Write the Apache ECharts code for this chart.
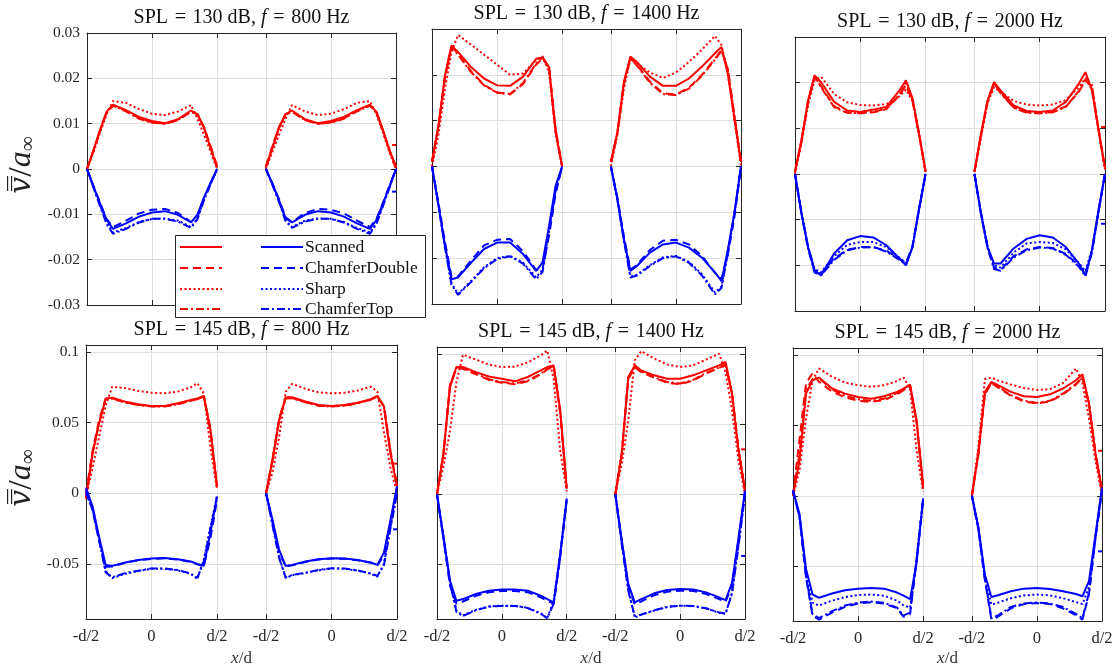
<!DOCTYPE html>
<html><head><meta charset="utf-8">
<script src="https://cdn.jsdelivr.net/npm/echarts@6/dist/echarts.min.js"></script>
<style>html,body{margin:0;padding:0;background:#fff}#c{width:1116px;height:668px}</style>
</head><body><div id="c"></div>
<script>
// ---------- axes / ticks ----------
const xsLeft  = [-0.5, -0.45, -0.4, -0.35, -0.3, -0.2, -0.1, 0, 0.1, 0.2, 0.3, 0.35, 0.4, 0.45, 0.5];
const xsRight = [0.875, 0.925, 0.975, 1.025, 1.075, 1.175, 1.275, 1.375, 1.475, 1.575, 1.675, 1.725, 1.775, 1.825, 1.875];
const xTickValues = [-0.5, 0, 0.5, 0.875, 1.375, 1.875];
const xTickLabels = ['-d/2', '0', 'd/2', '-d/2', '0', 'd/2'];
const yTicksTop = [-0.03, -0.02, -0.01, 0, 0.01, 0.02, 0.03];
const yTickLabelsTop = ['-0.03', '-0.02', '-0.01', '0', '0.01', '0.02', '0.03'];
const yTicksBottom = [-0.05, 0, 0.05, 0.1];
const yTickLabelsBottom = ['-0.05', '0', '0.05', '0.1'];
const styleNames = ['Scanned', 'ChamferDouble', 'Sharp', 'ChamferTop'];
const panelSPL = [130, 130, 130, 145, 145, 145];
const panelFreq = [800, 1400, 2000, 800, 1400, 2000];

// ---------- data: rows = Scanned, ChamferDouble, Sharp, ChamferTop ----------
const p1RedL = [
 [0, .0042, .0086, .0126, .0142, .0130, .0115, .0106, .0101, .0110, .0129, .0120, .0090, .0046, .0003],
 [0, .0040, .0084, .0124, .0140, .0128, .0112, .0103, .0100, .0108, .0127, .0121, .0092, .0050, .0006],
 [0, .0036, .0080, .0120, .0150, .0146, .0132, .0122, .0119, .0127, .0141, .0110, .0075, .0038, 0],
 [0, .0041, .0085, .0125, .0140, .0127, .0111, .0102, .0100, .0108, .0126, .0120, .0091, .0049, .0005]];
const p1BlueL = [
 [0, -.0039, -.0076, -.0112, -.0132, -.0120, -.0105, -.0096, -.0093, -.0101, -.0118, -.0100, -.0062, -.0030, 0],
 [0, -.0037, -.0074, -.0110, -.0128, -.0114, -.0098, -.0090, -.0088, -.0097, -.0117, -.0102, -.0064, -.0032, 0],
 [0, -.0040, -.0080, -.0118, -.0140, -.0130, -.0117, -.0110, -.0109, -.0114, -.0128, -.0108, -.0066, -.0032, 0],
 [0, -.0041, -.0082, -.0121, -.0143, -.0132, -.0118, -.0110, -.0110, -.0116, -.0130, -.0110, -.0068, -.0034, 0]];
const p1RedR = [
 [.0003, .0046, .0090, .0120, .0129, .0110, .0101, .0106, .0115, .0130, .0142, .0126, .0086, .0042, .0005],
 [.0006, .0050, .0092, .0121, .0127, .0108, .0100, .0103, .0112, .0128, .0140, .0124, .0084, .0040, 0],
 [0, .0038, .0075, .0110, .0141, .0127, .0119, .0122, .0132, .0146, .0150, .0120, .0080, .0036, 0],
 [.0005, .0049, .0091, .0120, .0126, .0108, .0100, .0102, .0111, .0127, .0140, .0125, .0085, .0041, .0005]];
const p1BlueR = [
 [0, -.0032, -.0068, -.0108, -.0118, -.0101, -.0093, -.0096, -.0105, -.0120, -.0132, -.0112, -.0076, -.0039, 0],
 [0, -.0032, -.0066, -.0106, -.0117, -.0097, -.0088, -.0090, -.0098, -.0114, -.0128, -.0110, -.0074, -.0037, 0],
 [0, -.0034, -.0070, -.0112, -.0128, -.0114, -.0109, -.0110, -.0117, -.0130, -.0140, -.0118, -.0080, -.0040, 0],
 [0, -.0035, -.0072, -.0114, -.0130, -.0116, -.0110, -.0110, -.0118, -.0132, -.0143, -.0121, -.0082, -.0041, 0]];

const p2RedL = [
 [.001, .0090, .0199, .0264, .0250, .0217, .0192, .0177, .0176, .0196, .0235, .0238, .0217, .0075, 0],
 [.001, .0088, .0195, .0262, .0246, .0208, .0178, .0162, .0157, .0180, .0222, .0236, .0214, .0080, 0],
 [0, .0070, .0170, .0250, .0287, .0266, .0244, .0222, .0200, .0203, .0233, .0240, .0205, .0070, 0],
 [.001, .0089, .0197, .0260, .0244, .0206, .0177, .0161, .0158, .0182, .0225, .0238, .0215, .0082, 0]];
const p2BlueL = [
 [0, -.0085, -.0173, -.0246, -.0242, -.0210, -.0180, -.0166, -.0166, -.0191, -.0228, -.0209, -.0129, -.0042, 0],
 [0, -.0080, -.0165, -.0240, -.0240, -.0205, -.0172, -.0160, -.0158, -.0185, -.0226, -.0222, -.0150, -.0060, 0],
 [0, -.0085, -.0175, -.0255, -.0278, -.0250, -.0220, -.0200, -.0195, -.0210, -.0242, -.0225, -.0140, -.0050, 0],
 [0, -.0086, -.0177, -.0258, -.0280, -.0252, -.0222, -.0202, -.0196, -.0212, -.0246, -.0230, -.0142, -.0052, 0]];
const p2RedR = [
 [.001, .0075, .0185, .0240, .0228, .0196, .0176, .0176, .0192, .0218, .0247, .0261, .0200, .0104, .001],
 [.001, .0072, .0180, .0236, .0222, .0185, .0160, .0157, .0172, .0200, .0235, .0255, .0210, .0108, .001],
 [0, .0070, .0170, .0235, .0225, .0205, .0193, .0205, .0228, .0255, .0285, .0265, .0200, .0100, 0],
 [.001, .0073, .0182, .0237, .0220, .0183, .0158, .0156, .0170, .0198, .0233, .0253, .0212, .0110, .001]];
const p2BlueR = [
 [0, -.0071, -.0158, -.0228, -.0217, -.0188, -.0170, -.0166, -.0177, -.0199, -.0231, -.0250, -.0180, -.0100, 0],
 [0, -.0068, -.0152, -.0225, -.0215, -.0182, -.0162, -.0160, -.0170, -.0195, -.0232, -.0246, -.0190, -.0110, 0],
 [0, -.0072, -.0160, -.0240, -.0236, -.0215, -.0198, -.0195, -.0208, -.0235, -.0275, -.0262, -.0185, -.0100, 0],
 [0, -.0073, -.0162, -.0242, -.0238, -.0217, -.0200, -.0196, -.0210, -.0238, -.0279, -.0265, -.0188, -.0102, 0]];

const p3RedL = [
 [.0005, .0074, .0161, .0216, .0201, .0158, .0139, .0136, .0141, .0147, .0183, .0205, .0166, .0089, .0008],
 [.0005, .0072, .0158, .0212, .0192, .0148, .0135, .0133, .0135, .0142, .0172, .0195, .0160, .0088, .0005],
 [0, .0068, .0150, .0205, .0213, .0175, .0157, .0151, .0150, .0153, .0170, .0185, .0160, .0085, .0005],
 [.0005, .0075, .0160, .0214, .0190, .0146, .0134, .0133, .0136, .0143, .0174, .0198, .0162, .0088, .0005]];
const p3BlueL = [
 [0, -.0087, -.0160, -.0211, -.0222, -.0174, -.0145, -.0136, -.0139, -.0156, -.0185, -.0200, -.0160, -.0078, 0],
 [0, -.0086, -.0160, -.0213, -.0218, -.0185, -.0166, -.0160, -.0160, -.0168, -.0185, -.0195, -.0158, -.0076, 0],
 [0, -.0085, -.0158, -.0208, -.0215, -.0180, -.0155, -.0149, -.0149, -.0160, -.0183, -.0195, -.0160, -.0078, 0],
 [0, -.0088, -.0163, -.0216, -.0222, -.0188, -.0167, -.0161, -.0160, -.0170, -.0188, -.0198, -.0160, -.0078, 0]];
const p3RedR = [
 [.0005, .0088, .0161, .0201, .0183, .0150, .0138, .0136, .0139, .0158, .0198, .0223, .0183, .0096, .0015],
 [.0005, .0085, .0158, .0198, .0178, .0146, .0135, .0133, .0136, .0148, .0180, .0205, .0190, .0098, .0010],
 [.0005, .0080, .0155, .0190, .0180, .0160, .0152, .0150, .0152, .0162, .0190, .0210, .0195, .0100, .0010],
 [.0005, .0086, .0159, .0199, .0177, .0145, .0134, .0133, .0135, .0147, .0182, .0207, .0188, .0097, .0010]];
const p3BlueR = [
 [0, -.0087, -.0160, -.0196, -.0196, -.0163, -.0142, -.0134, -.0139, -.0160, -.0196, -.0222, -.0167, -.0080, 0],
 [0, -.0085, -.0158, -.0205, -.0210, -.0180, -.0165, -.0160, -.0162, -.0175, -.0200, -.0220, -.0170, -.0082, 0],
 [0, -.0085, -.0158, -.0200, -.0205, -.0172, -.0152, -.0149, -.0151, -.0165, -.0195, -.0213, -.0165, -.0080, 0],
 [0, -.0088, -.0162, -.0208, -.0212, -.0183, -.0167, -.0161, -.0163, -.0177, -.0203, -.0224, -.0172, -.0084, 0]];

const p4RedL = [
 [-.003, .028, .0495, .067, .0677, .0649, .0630, .0618, .0618, .0637, .0660, .0672, .0689, .045, .006],
 [0, .030, .052, .067, .0672, .0645, .0627, .0617, .0616, .0632, .0655, .0668, .0685, .046, .005],
 [-.003, .018, .040, .062, .0755, .0745, .0725, .0712, .0708, .0720, .0750, .0780, .0707, .033, .003],
 [-.004, .029, .050, .0665, .0670, .0643, .0625, .0615, .0615, .0630, .0655, .0667, .0683, .044, .004]];
const p4BlueL = [
 [.004, -.0094, -.0307, -.0507, -.0514, -.0490, -.0472, -.0462, -.0458, -.0467, -.0483, -.0500, -.0514, -.028, -.0024],
 [.002, -.012, -.034, -.0520, -.0518, -.0492, -.0474, -.0464, -.0460, -.0469, -.0486, -.0503, -.0516, -.032, -.005],
 [0, -.010, -.032, -.055, -.0600, -.0570, -.0550, -.0535, -.0535, -.0545, -.0570, -.0605, -.047, -.0236, -.002],
 [0, -.011, -.033, -.056, -.0595, -.0565, -.0548, -.0532, -.0532, -.0543, -.0568, -.0600, -.048, -.025, -.003]];
const p4RedR = [
 [0, .0236, .052, .068, .068, .065, .0625, .0618, .0625, .0642, .0667, .0689, .0613, .028, .005],
 [0, .025, .053, .0675, .0675, .0647, .0622, .0616, .0622, .0640, .0664, .0686, .062, .030, .006],
 [0, .015, .040, .072, .0775, .0740, .0715, .0708, .0712, .0728, .0755, .072, .0436, .018, 0],
 [0, .024, .0515, .0672, .0673, .0645, .062, .0614, .062, .0638, .0662, .0684, .0615, .029, .005]];
const p4BlueR = [
 [0, -.019, -.040, -.0514, -.0507, -.0483, -.0467, -.0460, -.0462, -.0472, -.0490, -.0507, -.042, -.019, .005],
 [0, -.021, -.042, -.0516, -.0510, -.0486, -.0469, -.0462, -.0464, -.0474, -.0492, -.0510, -.044, -.021, .002],
 [0, -.022, -.045, -.0600, -.0580, -.0565, -.0545, -.0532, -.0535, -.0548, -.0570, -.0590, -.050, -.024, 0],
 [0, -.023, -.046, -.0595, -.0578, -.0562, -.0543, -.0530, -.0533, -.0546, -.0568, -.0585, -.051, -.025, 0]];

const p5RedL = [
 [0, .0288, .0764, .0907, .0907, .0871, .0840, .0824, .0805, .0836, .0883, .0907, .0919, .060, .005],
 [0, .030, .078, .090, .0895, .0855, .0815, .0795, .0785, .0805, .0855, .0890, .0910, .058, .004],
 [0, .020, .045, .080, .0995, .0960, .0925, .0907, .0910, .0940, .0990, .1025, .082, .031, .002],
 [0, .029, .077, .0905, .0900, .0860, .0820, .0800, .0790, .0810, .0860, .0895, .0912, .059, .004]];
const p5BlueL = [
 [0, -.0307, -.0617, -.0760, -.0748, -.0712, -.0688, -.0679, -.0679, -.0688, -.0724, -.0748, -.0771, -.0426, -.0045],
 [0, -.032, -.065, -.078, -.0765, -.0725, -.0700, -.0690, -.0690, -.0700, -.0735, -.0760, -.0780, -.045, -.004],
 [0, -.030, -.062, -.083, -.0865, -.0825, -.0800, -.0795, -.0795, -.0810, -.0850, -.0885, -.076, -.0426, -.003],
 [0, -.031, -.063, -.084, -.0868, -.0828, -.0802, -.0797, -.0797, -.0812, -.0852, -.0885, -.078, -.044, -.003]];
const p5RedR = [
 [0, .0288, .0836, .0919, .0883, .0848, .0824, .0824, .0848, .0883, .0919, .0943, .0717, .031, .0026],
 [0, .030, .082, .0905, .087, .083, .0795, .0785, .081, .086, .090, .092, .072, .032, .003],
 [0, .0217, .0526, .0955, .102, .0967, .0926, .0907, .0919, .096, .1002, .087, .060, .024, 0],
 [0, .029, .083, .091, .0875, .0835, .080, .079, .0815, .0865, .0905, .0925, .072, .032, .003]];
const p5BlueR = [
 [0, -.033, -.064, -.0771, -.0748, -.0707, -.0683, -.0676, -.0679, -.0700, -.0736, -.0755, -.0633, -.031, .0026],
 [0, -.034, -.066, -.0785, -.0765, -.0720, -.0695, -.0688, -.0690, -.0712, -.0748, -.0768, -.065, -.033, .002],
 [0, -.035, -.068, -.0880, -.0860, -.0830, -.0805, -.0795, -.0798, -.0815, -.0845, -.0855, -.070, -.036, 0],
 [0, -.036, -.069, -.0870, -.0858, -.0828, -.0803, -.0795, -.0797, -.0813, -.0843, -.0850, -.071, -.037, 0]];

const p6RedL = [
 [0, .025, .0726, .0821, .0840, .0762, .0726, .0702, .0690, .0707, .0738, .0762, .0790, .0536, .008],
 [0, .040, .080, .087, .081, .074, .070, .0675, .0667, .0680, .0720, .0750, .0785, .052, .005],
 [0, .018, .055, .082, .0905, .0845, .0805, .0785, .0774, .0785, .0815, .0840, .0760, .032, .003],
 [0, .030, .075, .083, .0835, .0755, .0710, .0685, .0675, .0690, .0730, .0755, .0780, .052, .006]];
const p6BlueL = [
 [.004, -.013, -.052, -.070, -.0725, -.0695, -.0672, -.0660, -.0655, -.0660, -.0688, -.0710, -.0735, -.0476, -.002],
 [.004, -.015, -.058, -.085, -.088, -.083, -.079, -.0765, -.0757, -.0765, -.080, -.086, -.084, -.045, -.003],
 [.003, -.014, -.055, -.076, -.0780, -.0745, -.0720, -.0705, -.0702, -.0710, -.0745, -.0780, -.0795, -.045, -.002],
 [.003, -.015, -.057, -.084, -.087, -.082, -.078, -.0760, -.0752, -.0760, -.0795, -.085, -.083, -.046, -.003]];
const p6RedR = [
 [0, .0298, .0738, .0810, .0786, .0738, .0707, .0702, .0721, .0762, .0821, .0864, .0655, .0298, .0036],
 [0, .030, .072, .080, .077, .071, .067, .0655, .067, .072, .079, .084, .065, .030, .004],
 [0, .035, .083, .084, .082, .079, .0765, .0752, .0758, .080, .0905, .080, .055, .025, 0],
 [0, .031, .073, .0805, .0775, .0715, .0675, .066, .0675, .0725, .0795, .0845, .066, .030, .004]];
const p6BlueR = [
 [0, -.0226, -.056, -.0720, -.0707, -.0679, -.0660, -.0655, -.0662, -.0679, -.0698, -.0714, -.0607, -.0274, .006],
 [0, -.024, -.060, -.088, -.086, -.080, -.077, -.0762, -.077, -.080, -.085, -.088, -.070, -.030, .004],
 [0, -.023, -.058, -.0774, -.0760, -.0728, -.0708, -.0702, -.0708, -.0728, -.0755, -.0770, -.065, -.029, .004],
 [0, -.024, -.059, -.087, -.085, -.079, -.0765, -.0758, -.0765, -.079, -.084, -.087, -.069, -.030, .004]];

// short stubs of the Scanned curves running out at the right edge (null = none)
const edgeX = [1.845, 1.875];
const edgeRedY  = [0.0053, null, 0.0103, 0.021, 0.032, 0.032];
const edgeBlueY = [-0.005, null, -0.0109, -0.0255, -0.044, -0.0395];

// ---------- build ----------
const panelData = [
  [p1RedL, p1BlueL, p1RedR, p1BlueR], [p2RedL, p2BlueL, p2RedR, p2BlueR], [p3RedL, p3BlueL, p3RedR, p3BlueR],
  [p4RedL, p4BlueL, p4RedR, p4BlueR], [p5RedL, p5BlueL, p5RedR, p5BlueR], [p6RedL, p6BlueL, p6RedR, p6BlueR]];

const boxes = [[87,33,309,272],[432,29,309,275],[795,37,310,274],[86,345,311,274],[437,347,308,272],[793,348,309,273]];
const FONT = 'Liberation Serif';
const AX = '#262626';
const RED = '#ff0000', BLUE = '#0000ff';
const dashTypes = ['solid', [8, 5], [2, 2.5], [8, 3, 2, 3]];
const LW = 2;

function nearestLabel(v, vals, labels) {
  let b = 0; for (let i = 1; i < vals.length; i++) if (Math.abs(vals[i] - v) < Math.abs(vals[b] - v)) b = i;
  return labels[b];
}

const grid = [], xAxis = [], yAxis = [], series = [], graphic = [];
boxes.forEach((b, p) => {
  grid.push({ left: b[0], top: b[1], width: b[2], height: b[3], containLabel: false });
  const bottomRow = p >= 3;
  const leftCol = p === 0 || p === 3;
  const yT = bottomRow ? yTicksBottom : yTicksTop;
  const yL = bottomRow ? yTickLabelsBottom : yTickLabelsTop;
  const yMin = bottomRow ? -0.089 : -0.03, yMax = bottomRow ? 0.105 : 0.03;
  const common = { axisLine: { show: true, onZero: false, lineStyle: { color: AX, width: 1 } } };
  [['bottom', true], ['top', false]].forEach(([pos, main]) => {
    xAxis.push(Object.assign({
      gridIndex: p, type: 'value', min: -0.5, max: 1.875, position: pos,
      axisTick: { show: true, inside: true, length: 5, customValues: xTickValues, lineStyle: { color: AX } },
      axisLabel: { show: main && bottomRow, customValues: xTickValues, margin: 9, color: AX, fontFamily: FONT, fontSize: 16.5,
        formatter: v => nearestLabel(v, xTickValues, xTickLabels) },
      splitLine: { show: main, lineStyle: { color: '#dedede', width: 1 } }
    }, common));
  });
  [['left', true], ['right', false]].forEach(([pos, main]) => {
    yAxis.push(Object.assign({
      gridIndex: p, type: 'value', min: yMin, max: yMax, position: pos,
      axisTick: { show: true, inside: true, length: 5, customValues: yT, lineStyle: { color: AX } },
      axisLabel: { show: main && leftCol, customValues: yT, margin: 7, color: AX, fontFamily: FONT, fontSize: 15.5,
        formatter: v => nearestLabel(v, yT, yL) },
      splitLine: { show: main, lineStyle: { color: '#dedede', width: 1 } }
    }, common));
  });
  const [redL, blueL, redR, blueR] = panelData[p];
  [[redL, xsLeft, RED], [blueL, xsLeft, BLUE], [redR, xsRight, RED], [blueR, xsRight, BLUE]].forEach(([set, xs, col]) => {
    set.forEach((vals, k) => {
      series.push({
        type: 'line', name: styleNames[k], xAxisIndex: 2 * p, yAxisIndex: 2 * p,
        data: xs.map((x, j) => [x, vals[j]]), symbol: 'none', silent: true, animation: false, clip: true,
        lineStyle: { color: col, width: LW, type: dashTypes[k] }, z: 3
      });
    });
  });
  [[edgeRedY[p], RED], [edgeBlueY[p], BLUE]].forEach(([v, col]) => {
    if (v === null) return;
    series.push({
      type: 'line', name: 'edge', xAxisIndex: 2 * p, yAxisIndex: 2 * p,
      data: edgeX.map(x => [x, v]), symbol: 'none', silent: true, animation: false, clip: true,
      lineStyle: { color: col, width: LW }, z: 3
    });
  });
  // title
  graphic.push({
    type: 'text', x: b[0] + b[2] / 2, y: b[1] - 15, z: 50,
    style: {
      text: '{n|SPL\u2004=\u2004' + panelSPL[p] + ' dB, }{i|f}{n|\u2004=\u2004' + panelFreq[p] + ' Hz}',
      align: 'center', verticalAlign: 'middle',
      rich: {
        n: { fontFamily: FONT, fontSize: 20, fill: '#111' },
        i: { fontFamily: FONT, fontSize: 20, fontStyle: 'italic', fill: '#111' }
      }
    }
  });
  if (bottomRow) {
    graphic.push({
      type: 'text', x: b[0] + b[2] / 2, y: 659, z: 50,
      style: {
        text: '{i|x}{n|/d}', align: 'center', verticalAlign: 'middle',
        rich: {
          n: { fontFamily: FONT, fontSize: 17, fill: '#333' },
          i: { fontFamily: FONT, fontSize: 17, fontStyle: 'italic', fill: '#333' }
        }
      }
    });
  }
  if (leftCol) {
    graphic.push({
      type: 'text', x: 22, y: b[1] + b[3] / 2 - 4, rotation: Math.PI / 2, z: 50,
      style: {
        text: '{v|v\u033F}{n|/}{a|a}{s|\u221E}', align: 'center', verticalAlign: 'middle',
        rich: {
          v: { fontFamily: 'DejaVu Serif', fontSize: 30, fontStyle: 'italic', fill: '#222' },
          n: { fontFamily: FONT, fontSize: 34, fill: '#222' },
          a: { fontFamily: FONT, fontSize: 32, fontStyle: 'italic', fill: '#222' },
          s: { fontFamily: FONT, fontSize: 21, fill: '#222', verticalAlign: 'bottom', padding: [12, 0, 0, 0] }
        }
      }
    });
  }
});

// legend
const legX = 175.5, legY = 235.5, legW = 250, legH = 82;
const rowYs = [247, 268, 289, 309];
const leg = [{ type: 'rect', shape: { x: legX, y: legY, width: legW, height: legH }, style: { fill: '#fff', stroke: AX, lineWidth: 1 }, z: 100 }];
styleNames.forEach((nm, k) => {
  const y = rowYs[k];
  leg.push({ type: 'line', shape: { x1: 180, y1: y, x2: 222, y2: y }, style: { stroke: RED, lineWidth: LW, lineDash: k === 0 ? null : dashTypes[k] }, z: 101 });
  leg.push({ type: 'line', shape: { x1: 261, y1: y, x2: 303, y2: y }, style: { stroke: BLUE, lineWidth: LW, lineDash: k === 0 ? null : dashTypes[k] }, z: 101 });
  leg.push({ type: 'text', x: 305, y: y, z: 101, style: { text: nm, fontFamily: FONT, fontSize: 17.5, fill: '#111', verticalAlign: 'middle', align: 'left' } });
});
graphic.push(...leg);

const chart = echarts.init(document.getElementById('c'), null, { renderer: 'canvas' });
chart.setOption({ animation: false, backgroundColor: '#fff', grid, xAxis, yAxis, series, graphic });
</script></body></html>
